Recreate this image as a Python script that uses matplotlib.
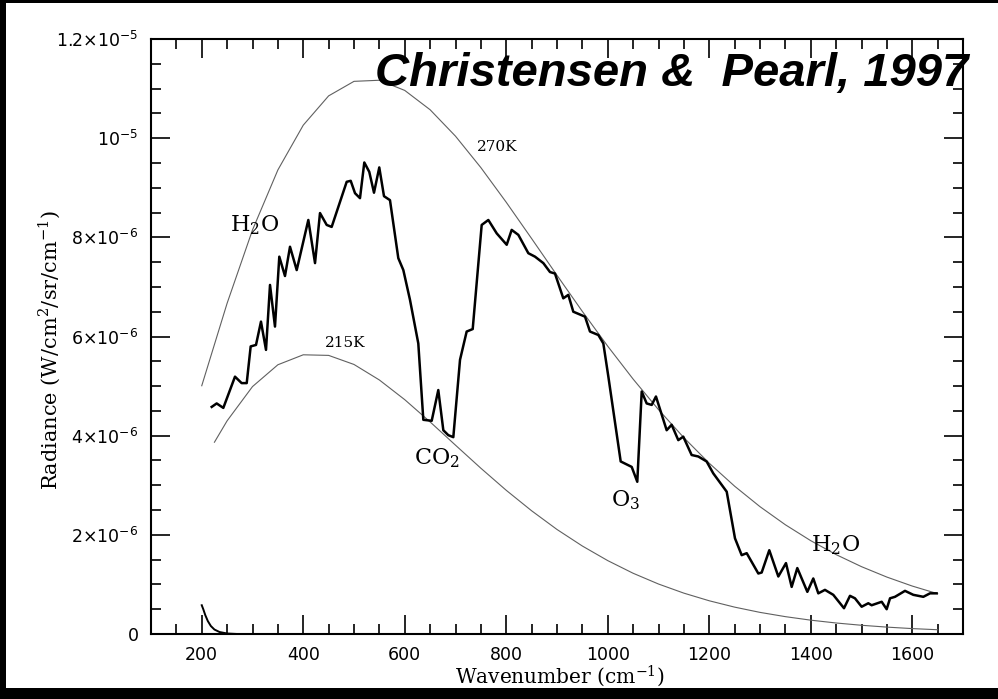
import matplotlib
matplotlib.use("Agg")
import matplotlib.pyplot as plt
from matplotlib.patches import Rectangle
from matplotlib.ticker import MultipleLocator, FixedLocator, FixedFormatter

plt.rcParams['mathtext.fontset'] = 'custom'
plt.rcParams['mathtext.rm'] = 'DejaVu Serif'
plt.rcParams['mathtext.sf'] = 'DejaVu Sans'

# measured spectrum (wavenumber cm-1, radiance in 1e-6 W/cm2/sr/cm-1)
spec_wn = [219.6, 229.4, 242.5, 265.5, 278.6, 288.6, 296.4, 306.9, 316.7, 326.6,
           334.5, 344.3, 352.8, 364.0, 373.9, 387.1, 410.0, 423.2, 433.0, 446.2,
           456.0, 485.6, 493.5, 502.0, 511.8, 520.3, 530.1, 539.4, 549.8, 559.1,
           570.9, 587.3, 597.2, 610.3, 626.7, 636.6, 653.1, 666.1, 676.0, 685.8,
           695.7, 708.9, 722.0, 733.9, 751.6, 764.7, 781.2, 800.9, 810.7, 823.8,
           843.5, 856.7, 873.1, 886.2, 896.0, 912.4, 922.3, 932.1, 955.2, 965.0,
           981.5, 991.3, 1001.2, 1025.5, 1047.2, 1058.2, 1066.9, 1076.7, 1086.6, 1095.0,
           1116.1, 1125.9, 1139.0, 1148.8, 1165.3, 1178.4, 1194.8, 1207.9, 1234.4, 1250.7,
           1263.9, 1273.8, 1296.7, 1303.3, 1318.3, 1336.1, 1351.2, 1362.4, 1373.5, 1393.3,
           1405.0, 1414.9, 1428.0, 1444.4, 1465.5, 1477.3, 1487.1, 1500.3, 1513.4, 1520.0,
           1539.8, 1549.6, 1556.2, 1566.0, 1585.7, 1602.1, 1621.8, 1635.0, 1648.0]
spec_val = [4.58, 4.65, 4.56, 5.19, 5.06, 5.06, 5.80, 5.83, 6.30, 5.73,
            7.04, 6.20, 7.61, 7.22, 7.81, 7.34, 8.35, 7.48, 8.49, 8.25,
            8.21, 9.12, 9.14, 8.89, 8.79, 9.51, 9.32, 8.90, 9.41, 8.83,
            8.75, 7.58, 7.34, 6.74, 5.86, 4.32, 4.30, 4.92, 4.11, 4.01,
            3.97, 5.53, 6.10, 6.15, 8.25, 8.35, 8.08, 7.85, 8.15, 8.05,
            7.68, 7.61, 7.48, 7.30, 7.27, 6.77, 6.84, 6.50, 6.40, 6.10,
            6.03, 5.86, 5.19, 3.48, 3.37, 3.07, 4.89, 4.65, 4.62, 4.79,
            4.11, 4.22, 3.91, 3.98, 3.61, 3.58, 3.48, 3.24, 2.87, 1.93,
            1.59, 1.63, 1.22, 1.24, 1.69, 1.16, 1.43, 0.95, 1.33, 0.85,
            1.12, 0.82, 0.89, 0.79, 0.52, 0.77, 0.72, 0.55, 0.62, 0.58,
            0.65, 0.50, 0.72, 0.75, 0.87, 0.79, 0.75, 0.82, 0.82]

# 270 K blackbody curve
bb270_wn = [200, 250, 300, 350, 400, 450, 500, 550, 600, 650, 700, 750, 800, 850, 900,
            950, 1000, 1050, 1100, 1150, 1200, 1250, 1300, 1350, 1400, 1450, 1500,
            1550, 1600, 1650]
bb270_val = [5.007, 6.671, 8.149, 9.359, 10.262, 10.853, 11.146, 11.168, 10.963, 10.573,
             10.040, 9.406, 8.707, 7.975, 7.234, 6.505, 5.804, 5.141, 4.525, 3.959,
             3.444, 2.981, 2.568, 2.203, 1.882, 1.601, 1.358, 1.148, 0.967, 0.813]

# 215 K blackbody curve
bb215_wn = [225, 250, 300, 350, 400, 450, 500, 550, 600, 650, 700, 750, 800, 850, 900,
            950, 1000, 1050, 1100, 1150, 1200, 1250, 1300, 1350, 1400, 1450, 1500,
            1550, 1600, 1650]
bb215_val = [3.868, 4.300, 4.990, 5.430, 5.631, 5.619, 5.436, 5.123, 4.726, 4.277,
             3.808, 3.343, 2.898, 2.485, 2.108, 1.774, 1.480, 1.225, 1.008, 0.824,
             0.670, 0.542, 0.436, 0.350, 0.279, 0.222, 0.176, 0.139, 0.109, 0.086]

# small curve near zero
low_wn = [200, 203, 207, 212, 218, 225, 235, 250, 270, 1650]
low_val = [0.58, 0.50, 0.38, 0.26, 0.16, 0.09, 0.04, 0.01, 0.0, 0.0]

ytick_vals = [0, 2, 4, 6, 8, 10, 12]
ytick_labels = [r'$\mathsf{0}$', r'$\mathsf{2{\times}10^{-6}}$', r'$\mathsf{4{\times}10^{-6}}$',
                r'$\mathsf{6{\times}10^{-6}}$', r'$\mathsf{8{\times}10^{-6}}$',
                r'$\mathsf{10^{-5}}$', r'$\mathsf{1.2{\times}10^{-5}}$']

fig = plt.figure(figsize=(9.98, 6.99), dpi=100, facecolor='black')
fig.patches.append(Rectangle((0.006, 0.0157), 0.994, 0.98, transform=fig.transFigure,
                             facecolor='white', edgecolor='none', zorder=-5))

ax = fig.add_axes([151/998, 65/699, 812/998, 595/699])
ax.set_facecolor('white')

e6 = 1e-6
ax.plot(bb270_wn, [v*e6 for v in bb270_val], color='#606060', lw=0.8)
ax.plot(bb215_wn, [v*e6 for v in bb215_val], color='#606060', lw=0.8)
ax.plot(low_wn, [v*e6 for v in low_val], color='black', lw=1.4)
ax.plot(spec_wn, [v*e6 for v in spec_val], color='black', lw=1.8)

ax.set_xlim(100, 1700)
ax.set_ylim(0, 1.2e-5)

ax.xaxis.set_major_locator(FixedLocator([200, 400, 600, 800, 1000, 1200, 1400, 1600]))
ax.xaxis.set_minor_locator(MultipleLocator(50))
ax.yaxis.set_major_locator(FixedLocator([v*e6 for v in ytick_vals]))
ax.yaxis.set_major_formatter(FixedFormatter(ytick_labels))
ax.yaxis.set_minor_locator(MultipleLocator(0.5e-6))

ax.tick_params(which='both', direction='in', top=True, right=True, width=1.2)
ax.tick_params(which='major', length=14, labelsize=12.5, pad=9)
ax.tick_params(which='minor', length=7)
for lab in ax.get_xticklabels():
    lab.set_family('DejaVu Sans')
for s in ax.spines.values():
    s.set_linewidth(1.5)

ax.set_xlabel(r'Wavenumber (cm$^{-1}$)', family='DejaVu Serif', fontsize=14.5)
ax.xaxis.set_label_coords(0.504, -0.05)
ax.set_ylabel(r'Radiance (W/cm$^2$/sr/cm$^{-1}$)', family='DejaVu Serif', fontsize=15)
ax.yaxis.set_label_coords(-0.108, 0.477)

ax.text(305, 8.25e-6, r'H$_2$O', family='DejaVu Serif', fontsize=16, ha='center', va='center')
ax.text(663, 3.55e-6, r'CO$_2$', family='DejaVu Serif', fontsize=16, ha='center', va='center')
ax.text(1036, 2.70e-6, r'O$_3$', family='DejaVu Serif', fontsize=16, ha='center', va='center')
ax.text(1448, 1.80e-6, r'H$_2$O', family='DejaVu Serif', fontsize=16, ha='center', va='center')
ax.text(482, 5.87e-6, '215K', family='DejaVu Serif', fontsize=11, ha='center', va='center')
ax.text(782, 9.82e-6, '270K', family='DejaVu Serif', fontsize=11, ha='center', va='center')

fig.text(968/998, (699-86)/699, 'Christensen &  Pearl, 1997', family='Liberation Sans',
         weight='bold', style='italic', fontsize=34, ha='right', va='baseline', zorder=10)

fig.savefig('out.png', dpi=100, facecolor=fig.get_facecolor())
